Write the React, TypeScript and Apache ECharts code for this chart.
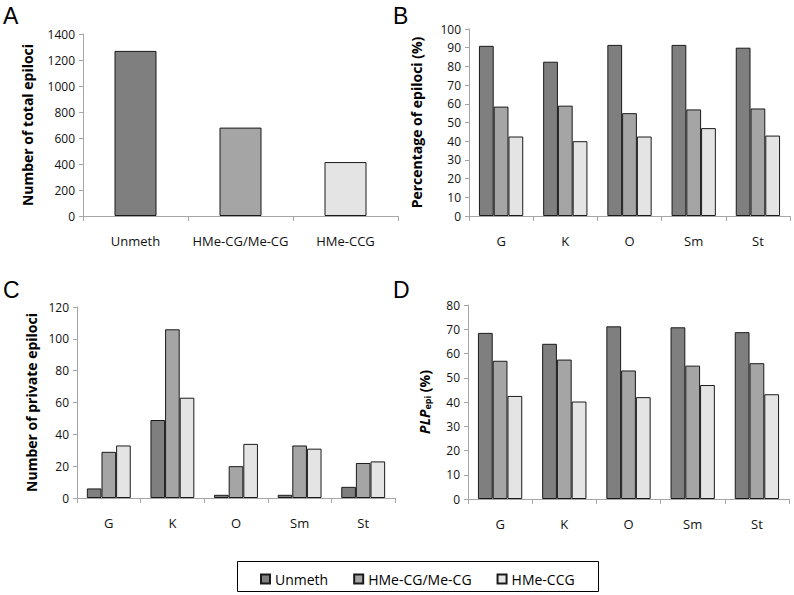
import React, { useEffect, useRef } from "react";
import * as echarts from "echarts";

const groupNames = ["Unmeth", "HMe-CG/Me-CG", "HMe-CCG"];
const tissues = ["G", "K", "O", "Sm", "St"];

const totalEpiloci = [1270, 680, 415];

const pctUnmeth = [91, 82.5, 91.5, 91.5, 90];
const pctHMeCG = [58.5, 59, 55, 57, 57.5];
const pctHMeCCG = [42.5, 40, 42.5, 47, 43];

const privUnmeth = [6, 49, 2, 2, 7];
const privHMeCG = [29, 106, 20, 33, 22];
const privHMeCCG = [33, 63, 34, 31, 23];

const plpUnmeth = [68.5, 64, 71.2, 70.8, 68.8];
const plpHMeCG = [57, 57.5, 53, 55, 56];
const plpHMeCCG = [42.5, 40.2, 42, 47, 43.2];

const colors = ["#7f7f7f", "#a5a5a5", "#e4e4e4"];
const FONT = "'Open Sans', 'Noto Sans', sans-serif";

export default function App() {
  const ref = useRef<HTMLDivElement>(null);
  useEffect(() => {
    document.body.style.margin = "0";
    const chart = echarts.init(ref.current!, null, { renderer: "svg" });

    const axisLineStyle = { lineStyle: { color: "#a6a6a6", width: 1 } };
    const labelStyle = { color: "#111", fontSize: 12, fontFamily: FONT };
    const nameStyle = { color: "#000", fontSize: 14, fontWeight: "bold" as const, fontFamily: FONT };

    const mkX = (gridIndex: number, data: string[]) => ({
      type: "category" as const,
      gridIndex,
      data,
      axisLine: axisLineStyle,
      axisTick: { show: true, length: 5, lineStyle: { color: "#a6a6a6" } },
      axisLabel: { ...labelStyle, fontSize: 13, margin: 18, interval: 0 },
    });
    const mkY = (gridIndex: number, max: number, interval: number, name: string, nameGap: number, rich?: any) => ({
      type: "value" as const,
      gridIndex,
      min: 0,
      max,
      interval,
      name,
      nameLocation: "middle" as const,
      nameGap,
      nameTextStyle: rich ? { ...nameStyle, rich } : nameStyle,
      axisLine: { show: true, ...axisLineStyle },
      axisTick: { show: true, length: 4, lineStyle: { color: "#a6a6a6" } },
      axisLabel: { ...labelStyle, margin: 8, formatter: (v: number) => String(v) },
      splitLine: { show: false },
    });

    const barStyle = (c: string) => ({ color: c, borderColor: "#1a1a1a", borderWidth: 1 });
    const mkSeries = (idx: number, arrs: number[][]) =>
      arrs.map((d, i) => ({
        type: "bar" as const,
        name: groupNames[i],
        xAxisIndex: idx,
        yAxisIndex: idx,
        data: d,
        barGap: "0%",
        barCategoryGap: "31%",
        itemStyle: barStyle(colors[i]),
      }));

    const letter = (t: string, x: number, y: number) => ({
      type: "text" as const,
      left: x,
      top: y,
      style: { text: t, fontSize: 23, fontFamily: "'Liberation Sans', Arial, sans-serif", fill: "#000" },
    });

    chart.setOption({
      animation: false,
      grid: [
        { left: 83, top: 34, right: 396, bottom: 379 },
        { left: 469, top: 29, right: 4, bottom: 379 },
        { left: 77, top: 307, right: 399, bottom: 97 },
        { left: 468, top: 305, right: 5, bottom: 96 },
      ],
      xAxis: [mkX(0, groupNames), mkX(1, tissues), mkX(2, tissues), mkX(3, tissues)],
      yAxis: [
        mkY(0, 1400, 200, "Number of total epiloci", 49),
        mkY(1, 100, 10, "Percentage of epiloci (%)", 46),
        mkY(2, 120, 20, "Number of private epiloci", 39),
        mkY(3, 80, 10, "{b|PLP}{s|epi}{n| (%)}", 36, {
          b: { fontSize: 14, fontWeight: "bold", fontStyle: "italic", fontFamily: FONT, color: "#000" },
          s: { fontSize: 9, fontWeight: "bold", fontFamily: FONT, color: "#000", padding: [6, 0, 0, 0] },
          n: { fontSize: 14, fontWeight: "bold", fontFamily: FONT, color: "#000" },
        }),
      ],
      legend: {
        data: groupNames,
        left: 255,
        top: 567,
        itemWidth: 9,
        itemHeight: 9,
        itemGap: 25,
        icon: "rect",
        textStyle: { color: "#000", fontSize: 14, fontFamily: FONT },
      },
      graphic: [
        letter("A", 3, 4),
        letter("B", 393, 4),
        letter("C", 3, 278),
        letter("D", 393, 278),
        {
          type: "rect",
          shape: { x: 237.5, y: 561.5, width: 361, height: 30 },
          style: { fill: "none", stroke: "#000", lineWidth: 1 },
        },
      ],
      series: [
        {
          type: "bar",
          xAxisIndex: 0,
          yAxisIndex: 0,
          barWidth: "40%",
          data: totalEpiloci.map((v, i) => ({ value: v, itemStyle: barStyle(colors[i]) })),
        },
        ...mkSeries(1, [pctUnmeth, pctHMeCG, pctHMeCCG]),
        ...mkSeries(2, [privUnmeth, privHMeCG, privHMeCCG]),
        ...mkSeries(3, [plpUnmeth, plpHMeCG, plpHMeCCG]),
      ],
    });
    return () => chart.dispose();
  }, []);
  return <div ref={ref} style={{ width: 794, height: 595 }} />;
}
